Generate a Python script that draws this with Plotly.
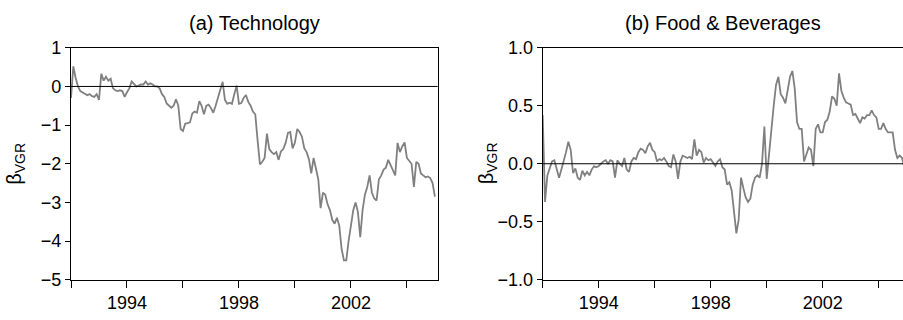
import plotly.graph_objects as go

# Monthly observations starting January 1992
START_YEAR = 1992

tech_beta = [
    -0.30, 0.52, 0.22, 0.00, -0.12, -0.15, -0.18, -0.23, -0.20, -0.25,
    -0.27, -0.20, -0.35, 0.33, 0.15, 0.25, 0.15, 0.20, -0.05, -0.10,
    -0.12, -0.10, -0.12, -0.27, -0.15, -0.05, 0.13, 0.05, 0.00, 0.02,
    0.05, 0.05, 0.13, 0.05, 0.08, 0.05, 0.00, 0.00, -0.05, -0.20,
    -0.27, -0.44, -0.50, -0.55, -0.50, -0.33, -0.50, -1.10, -1.15, -0.96,
    -0.95, -0.93, -0.70, -0.65, -0.68, -0.38, -0.50, -0.72, -0.50, -0.47,
    -0.56, -0.68, -0.50, -0.30, -0.05, 0.12, -0.35, -0.45, -0.42, -0.45,
    -0.20, 0.02, -0.45, -0.43, -0.30, -0.22, -0.40, -0.50, -0.65, -0.72,
    -1.40, -2.02, -1.95, -1.85, -1.22, -1.62, -1.70, -1.75, -1.70, -1.90,
    -1.68, -1.62, -1.46, -1.20, -1.18, -1.60, -1.45, -1.10, -1.18, -1.30,
    -1.60, -1.70, -1.88, -2.25, -1.85, -2.15, -2.40, -3.15, -2.75, -2.80,
    -3.05, -3.20, -3.45, -3.55, -3.40, -3.60, -4.20, -4.50, -4.50, -4.00,
    -3.65, -3.20, -3.00, -3.25, -3.90, -3.20, -2.80, -2.60, -2.30, -2.75,
    -2.90, -2.95, -2.40, -2.30, -2.15, -2.10, -1.90, -2.05, -2.20, -2.30,
    -1.46, -1.70, -1.55, -1.45, -1.85, -1.93, -2.00, -2.60, -1.95, -2.00,
    -2.25, -2.30, -2.35, -2.33, -2.37, -2.50, -2.85,
]

food_beta = [
    0.42, -0.33, -0.10, -0.03, 0.02, 0.03, -0.05, -0.12, -0.05, 0.02,
    0.10, 0.19, 0.12, -0.08, -0.04, -0.12, -0.14, -0.06, -0.10, -0.07,
    -0.10, -0.05, -0.02, -0.03, -0.02, 0.00, 0.02, 0.03, 0.00, 0.03,
    0.02, -0.12, 0.03, 0.00, -0.02, 0.05, -0.05, -0.07, 0.02, 0.05,
    0.04, 0.10, 0.13, 0.12, 0.09, 0.15, 0.18, 0.12, 0.10, 0.02,
    0.04, 0.03, 0.05, 0.02, -0.02, -0.03, 0.08, 0.02, -0.13, 0.02,
    0.07, 0.06, 0.05, 0.06, 0.04, 0.21, 0.07, 0.12, 0.10, 0.01,
    0.05, 0.03, 0.04, 0.01, -0.02, 0.02, 0.04, -0.03, -0.05, -0.18,
    -0.16, -0.23, -0.42, -0.60, -0.48, -0.12, -0.21, -0.29, -0.33, -0.30,
    -0.18, -0.12, -0.10, -0.12, 0.00, 0.32, -0.13, 0.10, 0.30, 0.50,
    0.68, 0.75, 0.60, 0.57, 0.52, 0.62, 0.75, 0.80, 0.65, 0.36,
    0.30, 0.30, 0.02, 0.08, 0.14, 0.12, -0.02, 0.30, 0.34, 0.27,
    0.27, 0.36, 0.38, 0.45, 0.58, 0.56, 0.50, 0.78, 0.63, 0.57,
    0.53, 0.52, 0.51, 0.42, 0.43, 0.39, 0.35, 0.40, 0.39, 0.42,
    0.42, 0.46, 0.42, 0.40, 0.30, 0.30, 0.35, 0.30, 0.27, 0.27,
    0.27, 0.12, 0.05, 0.07, 0.05, -0.03, -0.08,
]

x_label_years = [1994, 1998, 2002]
x_label_text = ["1994", "1998", "2002"]
panel_titles = ["(a) Technology", "(b) Food & Beverages"]
y_title = "β<sub>VGR</sub>"

tech_years = [START_YEAR + k / 12 for k in range(len(tech_beta))]
food_years = [START_YEAR + k / 12 for k in range(len(food_beta))]

W, H = 903, 320
FONT = "Liberation Sans, Arial, Helvetica, sans-serif"
LINE = "rgb(128,128,128)"

fig = go.Figure()
fig.add_trace(go.Scatter(x=tech_years, y=tech_beta, mode="lines",
                         line=dict(color=LINE, width=1.8),
                         xaxis="x", yaxis="y", showlegend=False))
fig.add_trace(go.Scatter(x=food_years, y=food_beta, mode="lines",
                         line=dict(color=LINE, width=1.8),
                         xaxis="x2", yaxis="y2", showlegend=False))

y_dom = [1 - 287.7 / H, 1 - 40.3 / H]
common_x = dict(showline=True, linecolor="black", linewidth=1.2, mirror=True,
                ticks="outside", ticklen=7, tickwidth=1, tickcolor="black",
                tickvals=x_label_years, ticktext=x_label_text,
                minor=dict(tick0=1992, dtick=2, ticks="outside", ticklen=7,
                           tickwidth=1, tickcolor="black", showgrid=False),
                showgrid=False, zeroline=False,
                tickfont=dict(size=18, color="black", family=FONT))
common_y = dict(showline=True, linecolor="black", linewidth=1.2,
                ticks="outside", ticklen=5, tickwidth=1, tickcolor="black",
                showgrid=False, zeroline=False,
                tickfont=dict(size=18, color="black", family=FONT))

fig.update_layout(
    width=W, height=H,
    margin=dict(l=0, r=0, t=0, b=0),
    paper_bgcolor="white", plot_bgcolor="white",
    font=dict(family=FONT, color="black"),
    xaxis=dict(domain=[71 / W, 437.7 / W], range=[1992, 2005.1],
               anchor="y", **common_x),
    yaxis=dict(domain=y_dom, range=[-5, 1], tick0=0, dtick=1,
               mirror=True, anchor="x", **common_y),
    xaxis2=dict(domain=[542.7 / W, 1.0], range=[1992, 1992 + 360.3 / 28],
                anchor="y2", **common_x),
    yaxis2=dict(domain=y_dom, range=[-1, 1], tick0=0, dtick=0.5,
                tickformat=".1f", mirror=False, anchor="x2", **common_y),
)

# Horizontal reference line at zero in each panel
for xr, yr in (("x domain", "y"), ("x2 domain", "y2")):
    fig.add_shape(type="line", xref=xr, yref=yr, x0=0, x1=1, y0=0, y1=0,
                  line=dict(color="black", width=1))

# Panel titles
for xr, title in (("x domain", panel_titles[0]), ("x2 domain", panel_titles[1])):
    fig.add_annotation(text=title, xref=xr, yref="paper", x=0.5,
                       y=1 - 14 / H, xanchor="center", yanchor="middle",
                       showarrow=False, font=dict(size=20, family=FONT))

# Rotated y-axis titles
y_mid = (y_dom[0] + y_dom[1]) / 2
for px in (16, 487.5):
    fig.add_annotation(text=y_title, xref="paper", yref="paper",
                       x=px / W, y=y_mid, xanchor="center", yanchor="middle",
                       textangle=-90, showarrow=False,
                       font=dict(size=20, family=FONT))

fig.write_html("out.html")
